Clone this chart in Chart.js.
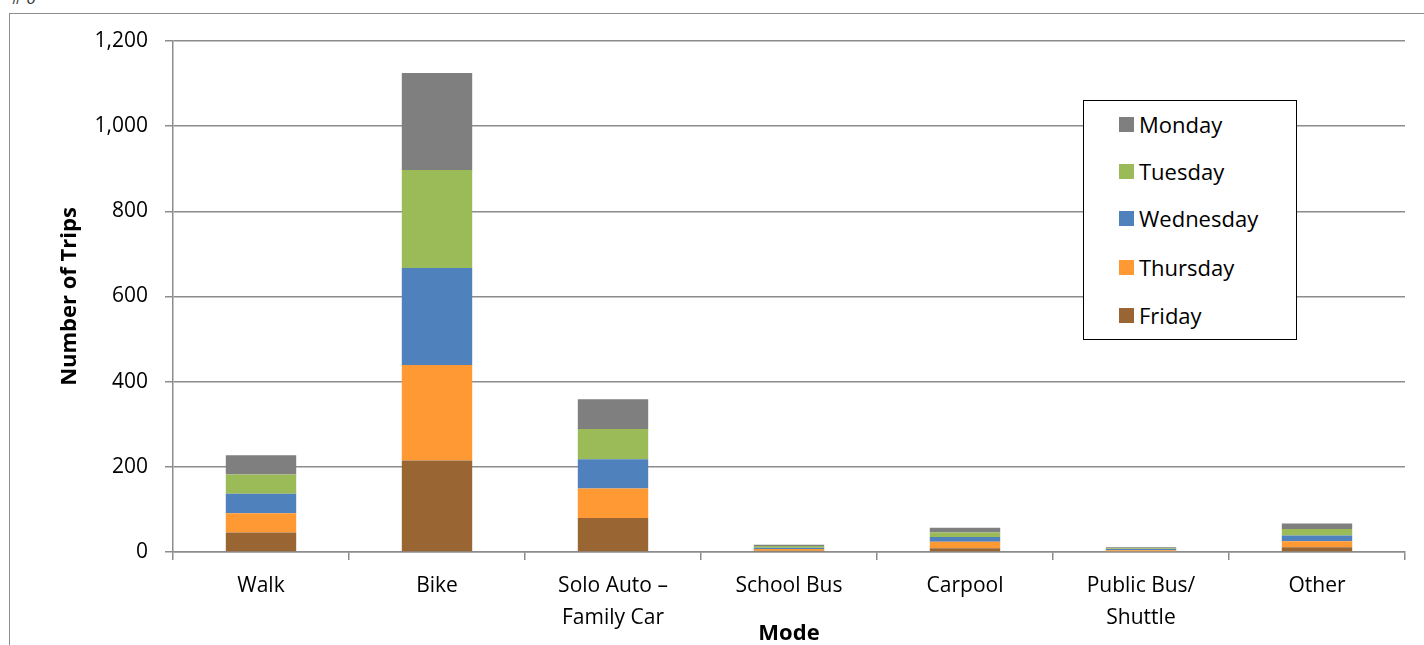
<!DOCTYPE html>
<html>
<head>
<meta charset="utf-8">
<script src="https://cdn.jsdelivr.net/npm/chart.js@4"></script>
<style>
  body { margin: 0; background: #fff; font-family: "Open Sans", sans-serif; }
  #wrap { position: relative; width: 1424px; height: 645px; overflow: hidden; }
  #frame { position: absolute; left: 9px; top: 13px; width: 1430px; height: 650px; border: 1.5px solid #8c8c8c; box-sizing: border-box; }
  #note { position: absolute; left: 11px; top: -14px; font-size: 17px; font-style: italic; color: #333; }
  #legend { position: absolute; left: 1083px; top: 100px; width: 214px; height: 240px; border: 1.5px solid #000; box-sizing: border-box; background: #fff; }
  .item { position: absolute; left: 35px; height: 24px; display: flex; align-items: center; font-size: 22px; color: #000; }
  .item span.sw { width: 15px; height: 15px; margin-right: 5px; }
  canvas { position: absolute; left: 0; top: 0; }
</style>
</head>
<body>
<div id="wrap">
  <div id="frame"></div>
  <div id="note"># 6</div>
  <canvas id="modeChart" width="1424" height="645"></canvas>
  <div id="legend"></div>
</div>
<script>
// Categories and trips per day
const modes = [
  'Walk',
  'Bike',
  ['Solo Auto \u2013', 'Family Car'],
  'School Bus',
  'Carpool',
  ['Public Bus/', 'Shuttle'],
  'Other',
];
const friday = [46, 215, 80, 3, 9, 2, 11];
const thursday = [45, 224, 69, 4, 15, 2, 14];
const wednesday = [46, 228, 69, 3, 11, 3, 14];
const tuesday = [45, 230, 71, 4, 11, 2, 15];
const monday = [45, 228, 70, 3, 11, 2, 13];

const yTicks = [0, 200, 400, 600, 800, 1000, 1200];

const fontFamily = '"Open Sans", sans-serif';
const gridColor = '#8c8c8c';

const series = [
  { label: 'Friday', data: friday, color: '#996633' },
  { label: 'Thursday', data: thursday, color: '#ff9933' },
  { label: 'Wednesday', data: wednesday, color: '#4f81bd' },
  { label: 'Tuesday', data: tuesday, color: '#9bbb59' },
  { label: 'Monday', data: monday, color: '#7f7f7f' },
];

const ctx = document.getElementById('modeChart').getContext('2d');

new Chart(ctx, {
  type: 'bar',
  data: {
    labels: modes,
    datasets: series.map((s) => ({
      label: s.label,
      data: s.data,
      backgroundColor: s.color,
      borderWidth: 0,
      barPercentage: 0.4,
      categoryPercentage: 1,
    })),
  },
  options: {
    responsive: false,
    animation: false,
    layout: { padding: { top: 41, right: 19, left: 0, bottom: 0 } },
    plugins: {
      legend: { display: false },
      tooltip: { enabled: false },
    },
    scales: {
      x: {
        stacked: true,
        grid: {
          offset: true,
          drawOnChartArea: false,
          drawTicks: true,
          tickLength: 8,
          color: gridColor,
          lineWidth: 1.5,
        },
        border: { color: gridColor, width: 1.5 },
        ticks: {
          color: '#000',
          padding: 10,
          maxRotation: 0,
          font: { family: fontFamily, size: 21, lineHeight: '32px' },
        },
        title: {
          display: true,
          text: 'Mode',
          color: '#000',
          padding: { top: 0, bottom: 0 },
          font: { family: fontFamily, size: 22, weight: 'bold', lineHeight: 1 },
        },
        afterFit: (scale) => { scale.height = 93; },
      },
      y: {
        stacked: true,
        min: 0,
        max: 1200,
        afterBuildTicks: (scale) => { scale.ticks = yTicks.map((v) => ({ value: v })); },
        grid: {
          color: gridColor,
          lineWidth: 1.5,
          drawTicks: true,
          tickLength: 8,
        },
        border: { color: gridColor, width: 1.5 },
        ticks: {
          color: '#000',
          padding: 17,
          font: { family: fontFamily, size: 21 },
          callback: (v) => v.toLocaleString('en-US'),
        },
        title: {
          display: true,
          text: 'Number of Trips',
          color: '#000',
          padding: { top: 57, bottom: 0 },
          font: { family: fontFamily, size: 22, weight: 'bold' },
        },
        afterFit: (scale) => { scale.width = 173; },
      },
    },
  },
});

// Legend box inside the plot, Monday on top
const legendEl = document.getElementById('legend');
const legendTops = [11, 58, 105, 154, 202];
series.slice().reverse().forEach((s, i) => {
  const row = document.createElement('div');
  row.className = 'item';
  row.style.top = legendTops[i] + 'px';
  row.innerHTML = '<span class="sw" style="background:' + s.color + '"></span>' + s.label;
  legendEl.appendChild(row);
});
</script>
</body>
</html>
